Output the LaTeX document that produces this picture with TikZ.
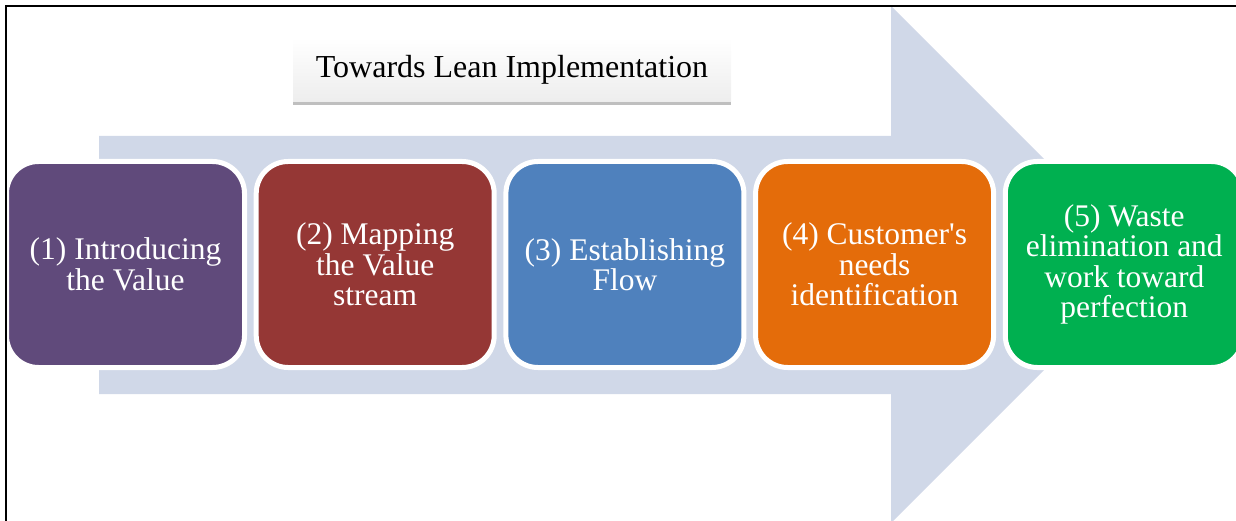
\documentclass[tikz,border=0pt]{standalone}
\usepackage{fontspec}
\setmainfont{Liberation Serif}
\usetikzlibrary{shadows}

\definecolor{leanpurple}{HTML}{604A7B}
\definecolor{leanred}{HTML}{953735}
\definecolor{leanblue}{HTML}{4F81BD}
\definecolor{leanorange}{HTML}{E46C0A}
\definecolor{leangreen}{HTML}{00B050}
\definecolor{arrowfill}{HTML}{D0D8E8}

\begin{document}
\begin{tikzpicture}[
    x=1pt, y=-1pt,
    stage/.style={draw=white, line width=5pt, rounded corners=32pt,
                  minimum width=238pt, minimum height=206pt, inner sep=0pt,
                  text=white, align=center, font=\fontsize{31.5}{30.5}\selectfont},
    heading/.style={minimum width=438pt, minimum height=64pt, inner sep=0pt,
                    top color=white, bottom color=gray!14,
                    drop shadow={opacity=0.5, shadow xshift=0pt, shadow yshift=-3pt},
                    font=\fontsize{32}{32}\selectfont}
  ]
    \useasboundingbox (0,0) rectangle (1236,521);
    \clip (0,0) rectangle (1236,521);

    % big arrow behind the stages
    \fill[arrowfill] (99,136) -- (891,136) -- (891,6) -- (1149.5,264.5)
        -- (891,523) -- (891,394) -- (99,394) -- cycle;

    \node[heading] (title) at (512,70) {Towards Lean Implementation};

    \foreach \i/\col/\txt in {
        0/leanpurple/{(1) Introducing\\the Value},
        1/leanred/{(2) Mapping\\the Value\\stream},
        2/leanblue/{(3) Establishing\\Flow},
        3/leanorange/{(4) Customer\textquotesingle s\\needs\\identification},
        4/leangreen/{(5) Waste\\elimination and\\work toward\\perfection}} {
      \pgfmathsetmacro{\x}{125.5 + \i*249.7}
      \node[stage, fill=\col] (stage\i) at (\x,264.5) {\txt};
    }

    % frame
    \draw[line width=2pt] (6,521) -- (6,6) -- (1236,6);
\end{tikzpicture}
\end{document}
